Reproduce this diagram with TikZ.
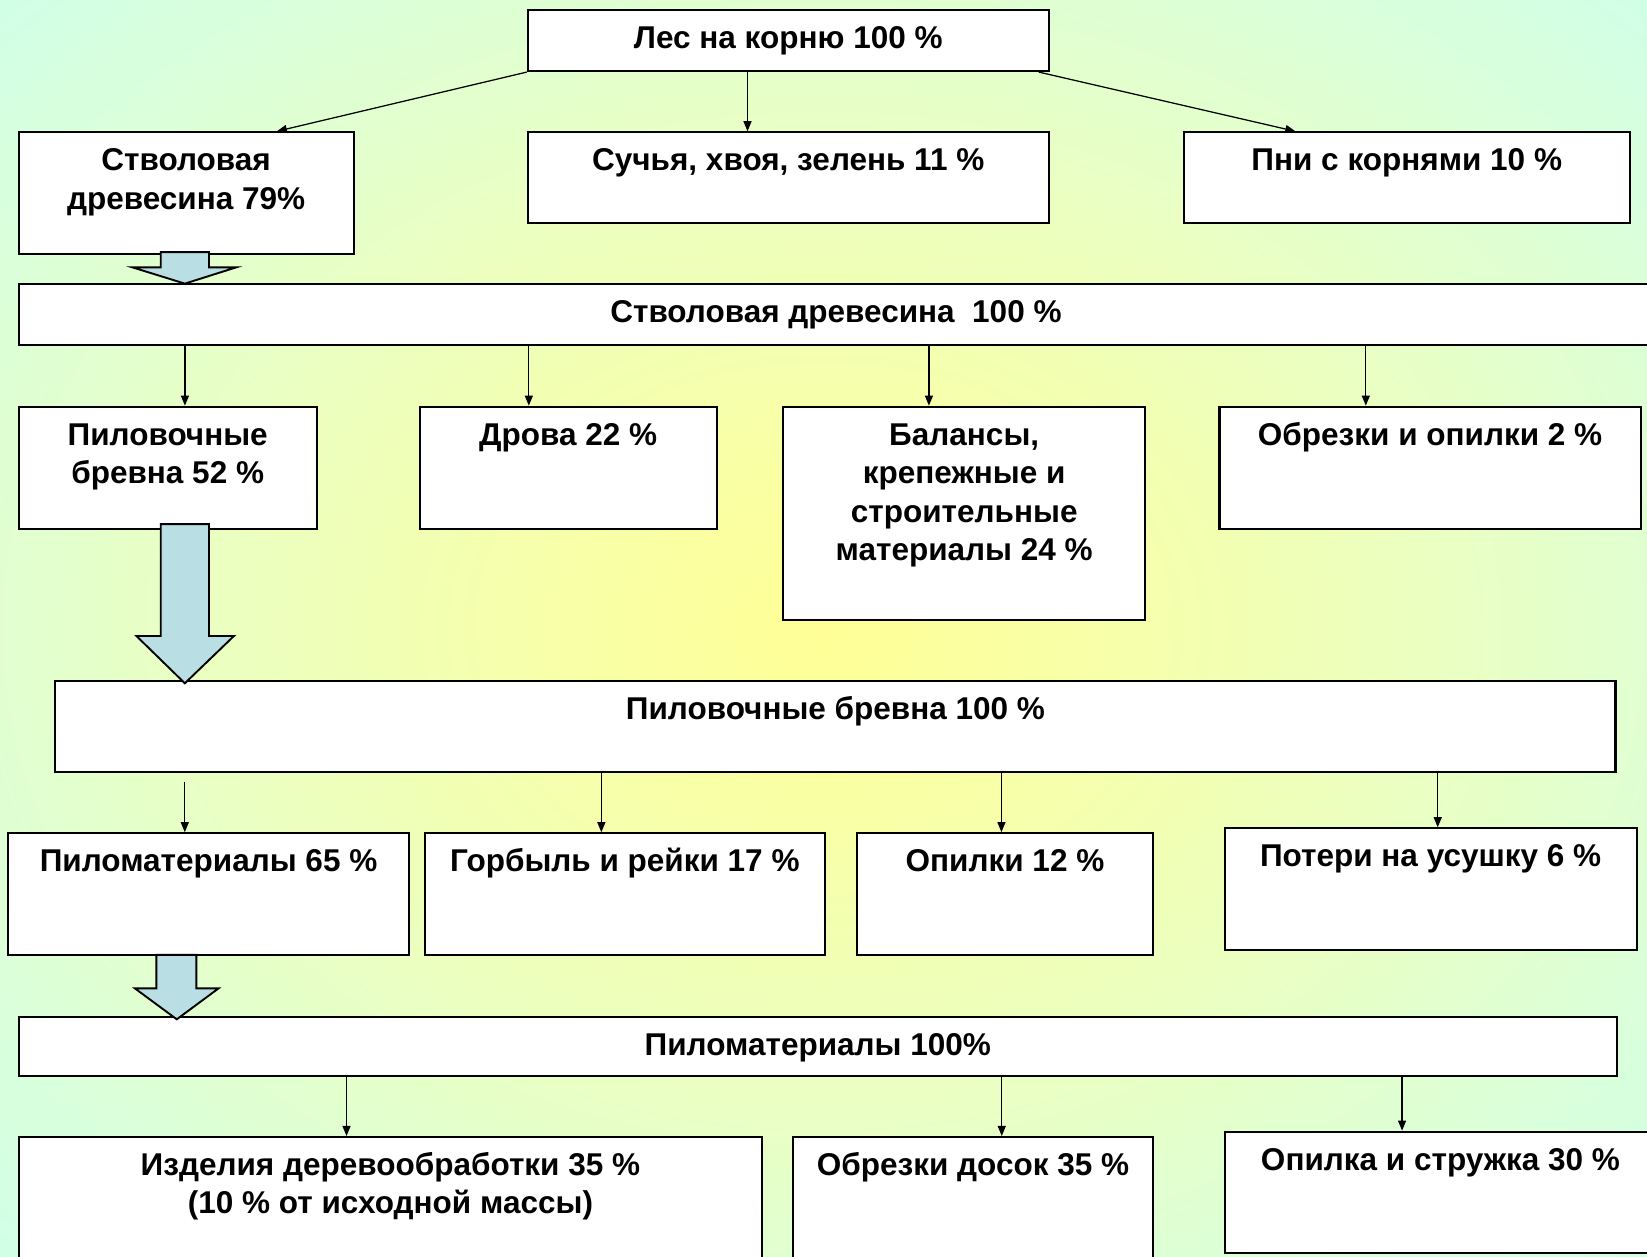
\documentclass[tikz,border=0pt]{standalone}
\usepackage{fontspec}
\setmainfont{Liberation Sans}
\usetikzlibrary{
    arrows.meta,
    positioning
}
\definecolor{bgyellow}{RGB}{255,255,150}
\definecolor{bglight}{RGB}{249,255,165}
\definecolor{bgpale}{RGB}{234,255,194}
\definecolor{bgmint}{RGB}{218,255,218}
\definecolor{bgcorner}{RGB}{203,255,238}
\definecolor{arrowblue}{RGB}{185,222,228}
\pgfdeclareradialshading{bgglow}{\pgfpoint{0bp}{0bp}}{%
    color(0bp)=(bgyellow); color(7bp)=(bglight); color(19bp)=(bgpale);
    color(29bp)=(bgmint); color(39bp)=(bgcorner); color(50bp)=(bgcorner)}
\tikzset{
    box/.style={draw=black, fill=white, line width=1pt, inner sep=0pt},
    lbl/.style={anchor=north, align=center, inner sep=0pt,
        font=\fontsize{15}{18.3}\selectfont\bfseries},
    conn/.style={line width=0.6pt, -{Triangle[length=4.8pt,width=3.8pt]}},
    blockarr/.style={draw=black, line width=0.9pt, fill=arrowblue, line join=miter}
}

\begin{document}
\begin{tikzpicture}[x=0.5pt, y=-0.5pt]
    \path[use as bounding box, shading=bgglow] (0,0) rectangle (1568,1196);

    % first level
    \node[box, minimum width=247.85pt, minimum height=29.05pt] (top) at (750.45,38.55) {};
    \node[box, minimum width=159.45pt, minimum height=58pt] (stv79) at (177.15,184) {};
    \node[box, minimum width=247.85pt, minimum height=43.3pt] (such) at (750.45,169.3) {};
    \node[box, minimum width=212.25pt, minimum height=43.3pt] (pni) at (1339.25,169.3) {};

    % stem wood
    \node[box, minimum width=778.15pt, minimum height=28.85pt] (stv100) at (795.85,299.55) {};
    \node[box, minimum width=141.95pt, minimum height=58.2pt] (pil52) at (159.65,445.4) {};
    \node[box, minimum width=141.35pt, minimum height=58.2pt] (drova) at (540.85,445.4) {};
    \node[box, minimum width=172.45pt, minimum height=101.5pt] (balans) at (917.95,488.7) {};
    \node[box, minimum width=200.5pt, minimum height=58.2pt] (obrez2) at (1361.5,445.4) {};

    % saw logs
    \node[box, minimum width=742.65pt, minimum height=43.5pt] (pil100) at (795.35,691.8) {};
    \node[box, minimum width=190.75pt, minimum height=57.95pt] (pm65) at (198.55,851.25) {};
    \node[box, minimum width=190.4pt, minimum height=57.95pt] (gorb) at (594.9,851.25) {};
    \node[box, minimum width=140.9pt, minimum height=57.95pt] (opilki) at (956.8,851.25) {};
    \node[box, minimum width=196.15pt, minimum height=57.9pt] (poteri) at (1361.95,846.5) {};

    % sawn timber
    \node[box, minimum width=760.9pt, minimum height=28.4pt] (pm100) at (778.6,996.3) {};
    \node[box, minimum width=354pt, minimum height=68.75pt] (izd) at (371.7,1151.25) {};
    \node[box, minimum width=171.7pt, minimum height=68.75pt] (obrdos) at (926.3,1151.25) {};
    \node[box, minimum width=205.6pt, minimum height=57.6pt] (opst) at (1371.4,1135) {};

    % texts
    \node[lbl] (t-top) at ([yshift=-5.8pt]top.north) {\strut Лес на корню 100 \%};
    \node[lbl] (t-stv79) at ([yshift=-5.8pt]stv79.north) {\strut Стволовая\\древесина 79\%};
    \node[lbl] (t-such) at ([yshift=-5.8pt]such.north) {\strut Сучья, хвоя, зелень 11 \%};
    \node[lbl] (t-pni) at ([yshift=-5.8pt]pni.north) {\strut Пни с корнями 10 \%};
    \node[lbl] (t-stv100) at ([yshift=-5.8pt]stv100.north) {\strut Стволовая древесина\ \ 100 \%};
    \node[lbl] (t-pil52) at ([yshift=-5.8pt]pil52.north) {\strut Пиловочные\\бревна 52 \%};
    \node[lbl] (t-drova) at ([yshift=-5.8pt]drova.north) {\strut Дрова 22 \%};
    \node[lbl] (t-balans) at ([yshift=-5.8pt]balans.north) {\strut Балансы,\\крепежные и\\строительные\\материалы 24 \%};
    \node[lbl] (t-obrez2) at ([yshift=-5.8pt]obrez2.north) {\strut Обрезки и опилки 2 \%};
    \node[lbl] (t-pil100) at ([yshift=-5.8pt]pil100.north) {\strut Пиловочные бревна 100 \%};
    \node[lbl] (t-pm65) at ([yshift=-5.8pt]pm65.north) {\strut Пиломатериалы 65 \%};
    \node[lbl] (t-gorb) at ([yshift=-5.8pt]gorb.north) {\strut Горбыль и рейки 17 \%};
    \node[lbl] (t-opilki) at ([yshift=-5.8pt]opilki.north) {\strut Опилки 12 \%};
    \node[lbl] (t-poteri) at ([yshift=-5.8pt]poteri.north) {\strut Потери на усушку 6 \%};
    \node[lbl] (t-pm100) at ([yshift=-5.8pt]pm100.north) {\strut Пиломатериалы 100\%};
    \node[lbl] (t-izd) at ([yshift=-5.8pt]izd.north) {\strut Изделия деревообработки 35 \%\\(10 \% от исходной массы)};
    \node[lbl] (t-obrdos) at ([yshift=-5.8pt]obrdos.north) {\strut Обрезки досок 35 \%};
    \node[lbl] (t-opst) at ([yshift=-5.8pt]opst.north) {\strut Опилка и стружка 30 \%};

    % connectors
    \draw[conn] (top.south west) -- ([xshift=43.2pt]stv79.north);
    \draw[conn] ([xshift=-19.4pt]top.south) -- ([xshift=-19.4pt]such.north);
    \draw[conn] ([xshift=-5.2pt]top.south east) -- ([xshift=-53pt]pni.north);

    \draw[conn] ([xshift=8.2pt]pil52.north |- stv100.south) -- ([xshift=8.2pt]pil52.north);
    \draw[conn] ([xshift=-18.7pt]drova.north |- stv100.south) -- ([xshift=-18.7pt]drova.north);
    \draw[conn] ([xshift=-16.8pt]balans.north |- stv100.south) -- ([xshift=-16.8pt]balans.north);
    \draw[conn] ([xshift=-30.6pt]obrez2.north |- stv100.south) -- ([xshift=-30.6pt]obrez2.north);

    \draw[conn] ([xshift=-11.3pt,yshift=-4pt]pm65.north |- pil100.south) -- ([xshift=-11.3pt]pm65.north);
    \draw[conn] ([xshift=-11.2pt]gorb.north |- pil100.south) -- ([xshift=-11.2pt]gorb.north);
    \draw[conn] ([xshift=-1.7pt]opilki.north |- pil100.south) -- ([xshift=-1.7pt]opilki.north);
    \draw[conn] ([xshift=3.4pt]poteri.north |- pil100.south) -- ([xshift=3.4pt]poteri.north);

    \draw[conn] ([xshift=-20.9pt]izd.north |- pm100.south) -- ([xshift=-20.9pt]izd.north);
    \draw[conn] ([xshift=13.7pt]obrdos.north |- pm100.south) -- ([xshift=13.7pt]obrdos.north);
    \draw[conn] ([xshift=-18.3pt]opst.north |- pm100.south) -- ([xshift=-18.3pt]opst.north);

    % block arrows
    \draw[blockarr] (153,240) -- (199,240) -- (199,254.5) -- (225,254.5) -- (176,270)
        -- (126,254.5) -- (153,254.5) -- cycle;
    \draw[blockarr] (153,499) -- (199,499) -- (199,605.5) -- (222.7,605.5) -- (176,650.5)
        -- (129.9,605.5) -- (153,605.5) -- cycle;
    \draw[blockarr] (148.9,909) -- (187,909) -- (187,941) -- (208,941) -- (168.3,970.4)
        -- (128.5,941) -- (148.9,941) -- cycle;
\end{tikzpicture}
\end{document}
